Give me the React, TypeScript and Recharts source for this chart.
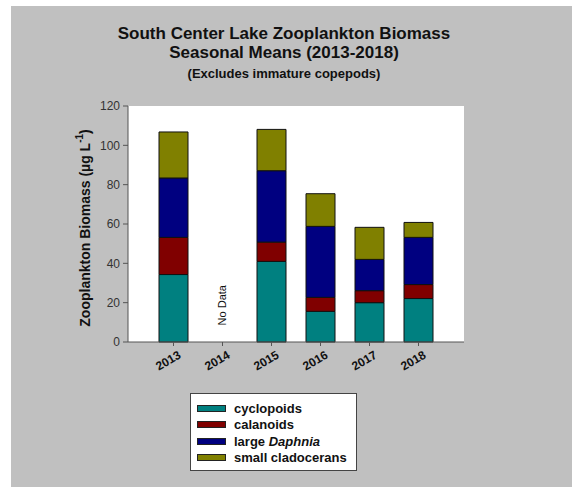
import React from "react";
import {
  BarChart,
  Bar,
  XAxis,
  YAxis,
  CartesianGrid,
  ReferenceDot,
} from "recharts";

const years = ["2013", "2014", "2015", "2016", "2017", "2018"];
const cyclopoids = [34.3, null, 41.0, 15.6, 20.0, 22.1];
const calanoids = [18.9, null, 9.8, 7.1, 6.1, 7.1];
const largeDaphnia = [30.2, null, 36.3, 36.1, 15.9, 24.0];
const smallCladocerans = [23.4, null, 21.0, 16.6, 16.3, 7.6];
const yTicks = [0, 20, 40, 60, 80, 100, 120];

const data = years.map((y, i) => ({
  year: y,
  cyclopoids: cyclopoids[i],
  calanoids: calanoids[i],
  largeDaphnia: largeDaphnia[i],
  smallCladocerans: smallCladocerans[i],
}));

const series = [
  { key: "cyclopoids", color: "#008080" },
  { key: "calanoids", color: "#800000" },
  { key: "largeDaphnia", color: "#000080" },
  { key: "smallCladocerans", color: "#808000" },
];

const FONT = "'Liberation Sans', Arial, sans-serif";

const XTick = (props: any) => {
  const { x, y, payload } = props;
  return (
    <text
      x={0}
      y={0}
      transform={`translate(${x + 4},${y + 2}) rotate(-30)`}
      textAnchor="end"
      dy="0.71em"
      fontFamily={FONT}
      fontSize={12}
      fontWeight="bold"
      fill="#111"
    >
      {payload.value}
    </text>
  );
};

const legendLabel = (key: string) => {
  if (key === "cyclopoids") return <>cyclopoids</>;
  if (key === "calanoids") return <>calanoids</>;
  if (key === "largeDaphnia")
    return (
      <>
        large <i>Daphnia</i>
      </>
    );
  return <>small cladocerans</>;
};

const LegendBox = () => (
  <div
    style={{
      position: "absolute",
      left: 190,
      top: 393,
      width: 167,
      height: 78,
      boxSizing: "border-box",
      border: "1px solid #444",
      background: "#fff",
      fontFamily: FONT,
      fontSize: 13,
      fontWeight: "bold",
      color: "#111",
      paddingTop: 6,
    }}
  >
    {series.map((s) => (
      <div key={s.key} style={{ display: "flex", alignItems: "center", height: 16.5 }}>
        <div
          style={{
            marginLeft: 6,
            width: 29,
            height: 7,
            background: s.color,
            border: "1px solid #222",
            boxSizing: "border-box",
          }}
        />
        <span style={{ marginLeft: 8 }}>{legendLabel(s.key)}</span>
      </div>
    ))}
  </div>
);

const NoDataLabel = (props: any) => {
  const { viewBox } = props;
  const cx = viewBox.x + (viewBox.width || 0) / 2;
  const cy = viewBox.y + (viewBox.height || 0) / 2;
  return (
    <text
      x={cx}
      y={cy}
      transform={`rotate(-90, ${cx}, ${cy})`}
      textAnchor="middle"
      dominantBaseline="central"
      fontFamily={FONT}
      fontSize={11}
      fill="#111"
    >
      No Data
    </text>
  );
};

export default function App() {
  return (
    <div style={{ position: "absolute", left: 0, top: 0, width: 572, height: 487, background: "#fff" }}>
      <div style={{ position: "absolute", left: 11, top: 6, width: 561, height: 481, background: "#c0c0c0" }} />
      <div
        style={{
          position: "absolute",
          left: 0,
          top: 24,
          width: 568,
          textAlign: "center",
          fontFamily: FONT,
          fontWeight: "bold",
          color: "#111",
        }}
      >
        <div style={{ fontSize: 17, lineHeight: "19px" }}>South Center Lake Zooplankton Biomass</div>
        <div style={{ fontSize: 17, lineHeight: "19px" }}>Seasonal Means (2013-2018)</div>
        <div style={{ fontSize: 13, lineHeight: "15px", marginTop: 4 }}>(Excludes immature copepods)</div>
      </div>
      <div style={{ position: "absolute", left: 0, top: 0 }}>
        <BarChart
          width={572}
          height={487}
          data={data}
          margin={{ top: 106, right: 108, left: 68, bottom: 115 }}
          barSize={29}
        >
          <CartesianGrid horizontal={false} vertical={false} fill="#fff" />
          <XAxis
            dataKey="year"
            padding={{ left: 21, right: 21 }}
            height={30}
            tickSize={4}
            tickMargin={2}
            interval={0}
            tick={<XTick />}
            axisLine={{ stroke: "#555" }}
            tickLine={{ stroke: "#555" }}
          />
          <XAxis
            xAxisId="top"
            dataKey="year"
            orientation="top"
            height={0}
            tick={false}
            tickLine={false}
            axisLine={{ stroke: "#555" }}
          />
          <YAxis
            domain={[0, 120]}
            ticks={yTicks}
            width={60}
            tickSize={5}
            tickMargin={3}
            axisLine={{ stroke: "#555" }}
            tickLine={{ stroke: "#555" }}
            tick={{ fill: "#333", fontSize: 12, fontFamily: FONT }}
          />
          <YAxis
            yAxisId="right"
            orientation="right"
            domain={[0, 120]}
            width={0}
            tick={false}
            tickLine={false}
            axisLine={{ stroke: "#555" }}
          />
          {series.map((s) => (
            <Bar
              key={s.key}
              dataKey={s.key}
              stackId="a"
              fill={s.color}
              stroke="#111"
              strokeWidth={1}
              isAnimationActive={false}
            />
          ))}
          <ReferenceDot x="2014" y={18.7} r={0} fill="none" stroke="none" label={<NoDataLabel />} />
          <text
            x={85}
            y={228}
            transform="rotate(-90, 85, 228)"
            textAnchor="middle"
            dominantBaseline="central"
            fontFamily={FONT}
            fontSize={14}
            fontWeight="bold"
            fill="#111"
          >
            Zooplankton Biomass (µg L
            <tspan baselineShift="super" fontSize={10}>-1</tspan>
            <tspan>)</tspan>
          </text>
        </BarChart>
      </div>
      <LegendBox />
    </div>
  );
}
